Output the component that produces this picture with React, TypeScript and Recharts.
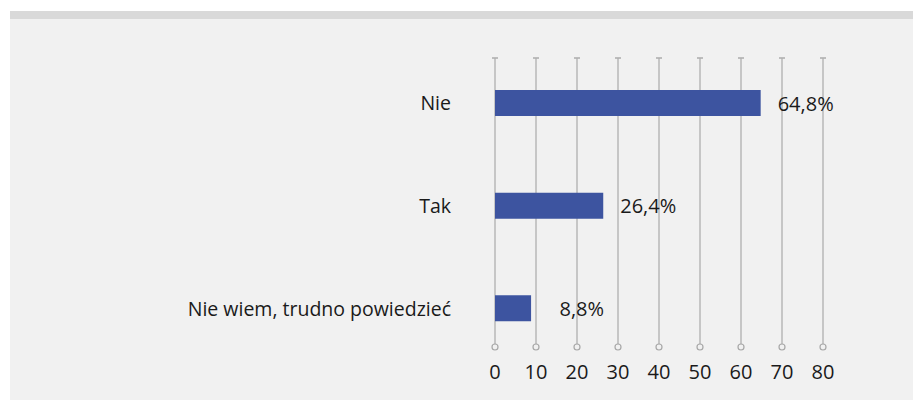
import React from "react";
import { BarChart, Bar, XAxis, YAxis, CartesianGrid, LabelList } from "recharts";

const categories = ["Nie", "Tak", "Nie wiem, trudno powiedzieć"];
const values = [64.8, 26.4, 8.8];
const xTicks = [0, 10, 20, 30, 40, 50, 60, 70, 80];

const data = categories.map((name, i) => ({ name, value: values[i] }));

const FONT = "'Open Sans', 'Noto Sans', sans-serif";
const TEXT = "#1a1a1a";

// vertical grid line with a small cap on top and a ring at the bottom
function GridLine(props: any) {
  const { x1, y1, y2 } = props;
  const top = y1 + 6;
  const bottom = y2 - 16;
  return (
    <g>
      <line x1={x1} x2={x1} y1={top} y2={bottom} stroke="#bcbcbc" strokeWidth={1.6} />
      <line x1={x1 - 3} x2={x1 + 3} y1={top} y2={top} stroke="#b0b0b0" strokeWidth={1.6} />
      <circle cx={x1} cy={bottom + 3} r={3} fill="#f1f1f1" stroke="#a8a8a8" strokeWidth={1.2} />
    </g>
  );
}

// value labels are right-aligned a fixed distance past the bar end
function ValueLabel(props: any) {
  const { x, y, width, height, value } = props;
  return (
    <text
      x={x + width + 73}
      y={y + height / 2}
      textAnchor="end"
      dominantBaseline="central"
      fill={TEXT}
      fontSize={20}
      fontFamily={FONT}
    >
      {`${String(value).replace(".", ",")}%`}
    </text>
  );
}

export default function App() {
  return (
    <div style={{ position: "absolute", left: 0, top: 0, width: 913, height: 401, background: "#fff", overflow: "hidden" }}>
      <div style={{ position: "absolute", left: 10, top: 11, right: 0, bottom: 1, background: "#f1f1f1" }} />
      <div style={{ position: "absolute", left: 10, top: 11, right: 0, height: 8, background: "#d9d9d9" }} />
      <div style={{ position: "absolute", left: 0, top: 0 }}>
        <BarChart
          width={913}
          height={401}
          data={data}
          layout="vertical"
          margin={{ top: 52, right: 90, bottom: 11, left: 0 }}
        >
          <CartesianGrid horizontal={false} vertical={GridLine as any} />
          <XAxis
            type="number"
            domain={[0, 80]}
            ticks={xTicks}
            axisLine={false}
            tickLine={false}
            tickSize={3}
            height={30}
            tick={{ fill: TEXT, fontSize: 20, fontFamily: FONT }}
          />
          <YAxis
            type="category"
            dataKey="name"
            width={495}
            axisLine={false}
            tickLine={false}
            tickSize={0}
            tickMargin={44}
            tick={{ fill: TEXT, fontSize: 19.5, fontFamily: FONT }}
          />
          <Bar dataKey="value" fill="#3d54a0" barSize={26} isAnimationActive={false}>
            <LabelList dataKey="value" content={ValueLabel} />
          </Bar>
        </BarChart>
      </div>
    </div>
  );
}
